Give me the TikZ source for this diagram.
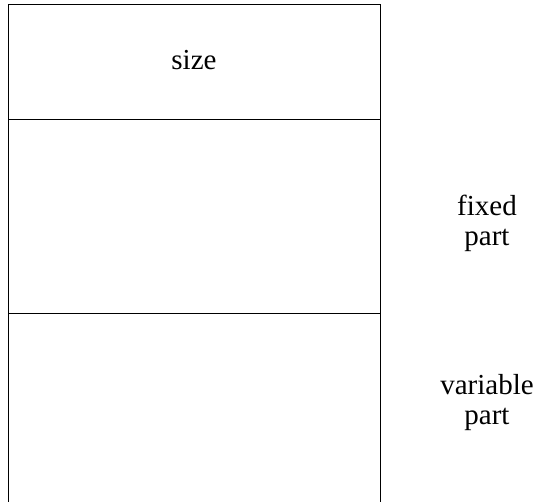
\documentclass[tikz,border=0pt]{standalone}
\usepackage{fontspec}
\setmainfont{Liberation Serif}
\begin{document}
\begin{tikzpicture}[x=1pt,y=1pt,
  lbl/.style={font=\fontsize{29}{30}\selectfont, align=center, inner sep=0pt},
  edge/.style={line width=1pt, black}]
\useasboundingbox (0,0) rectangle (540,-502);
\coordinate (tl) at (8,-5);
\coordinate (tr) at (380,-5);
\coordinate (ml1) at (8,-120);
\coordinate (mr1) at (380,-120);
\coordinate (ml2) at (8,-313);
\coordinate (mr2) at (380,-313);
\coordinate (bl) at (8,-502);
\coordinate (br) at (380,-502);
\draw[edge] (bl) -- (tl) -- (tr) -- (br);
\draw[edge] (ml1) -- (mr1);
\draw[edge] (ml2) -- (mr2);
\node[lbl] (size) at (194,-60) {size};
\node[lbl] (fixed) at (487,-223) {fixed\\part};
\node[lbl] (var) at (487,-403) {variable\\part};
\end{tikzpicture}
\end{document}
